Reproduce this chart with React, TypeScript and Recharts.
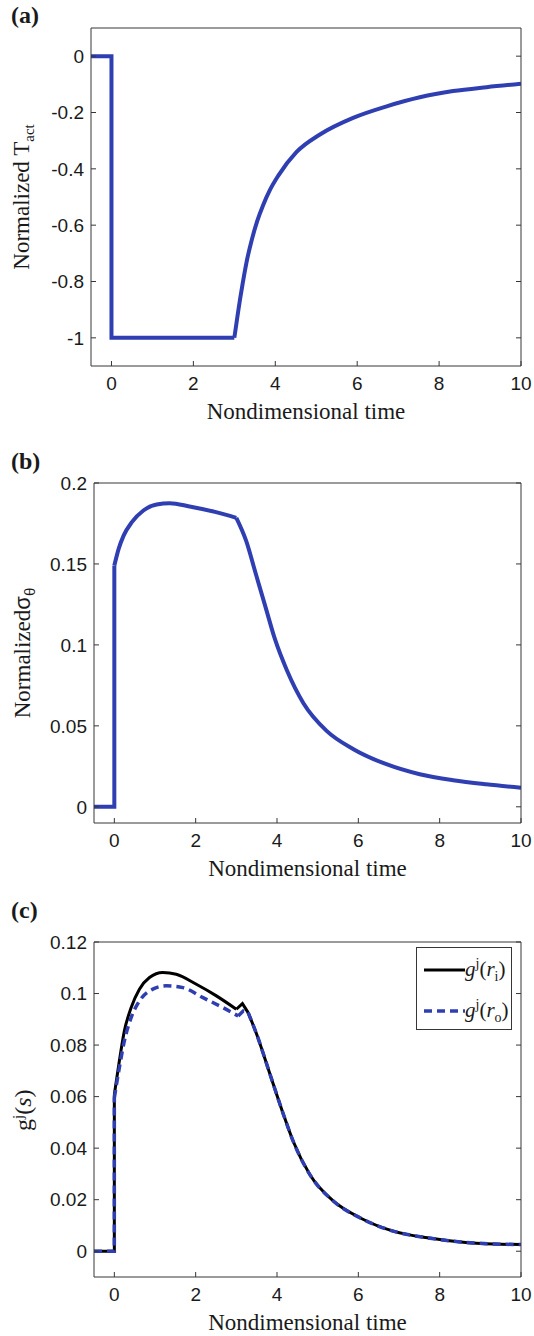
import React from 'react';
import { LineChart, Line, XAxis, YAxis, Legend } from 'recharts';

const BLUE = '#2f3fb2';
const FRAME = '#363636';
const INK = '#1a1a1a';
const SANS = "'Liberation Sans', Arial, sans-serif";
const SERIF = "'Liberation Serif', 'Times New Roman', serif";
const TICK = 5;

const xTicks = [0, 2, 4, 6, 8, 10];

// (a) normalized active tension
const tactTicks = [-1, -0.8, -0.6, -0.4, -0.2, 0];
const tactStepT = [-0.5, 0, 0, 3.0];
const tactStepV = [0, 0, -1, -1];
const tactRecT = [3.0, 3.05, 3.1, 3.2, 3.3, 3.43, 3.56, 3.7, 3.87, 4.07, 4.52, 5.09, 5.9, 6.72, 7.53, 8.34, 9.16, 10];
const tactRecV = [-1, -0.95, -0.9, -0.81, -0.73, -0.65, -0.585, -0.53, -0.475, -0.425, -0.34, -0.278, -0.219, -0.178, -0.146, -0.124, -0.11, -0.098];

// (b) normalized hoop stress
const sigTicks = [0, 0.05, 0.1, 0.15, 0.2];
const sigStepT = [-0.5, 0, 0];
const sigStepV = [0, 0, 0.149];
const sigHoldT = [0, 0.106, 0.228, 0.431, 0.715, 1.04, 1.366, 1.85, 2.5, 3.0];
const sigHoldV = [0.149, 0.1593, 0.1675, 0.1758, 0.183, 0.1867, 0.1875, 0.1855, 0.182, 0.1785];
const sigDecT = [3.0, 3.24, 3.48, 3.72, 3.95, 4.24, 4.65, 5.22, 5.88, 6.69, 7.51, 8.33, 9.14, 10];
const sigDecV = [0.1785, 0.1644, 0.1438, 0.1232, 0.1035, 0.0845, 0.064, 0.0469, 0.0356, 0.0263, 0.0201, 0.0164, 0.0139, 0.0118];

// (c) g^j at inner (ri) and outer (ro) radius
const gTicks = [0, 0.02, 0.04, 0.06, 0.08, 0.1, 0.12];
const giStepT = [-0.5, 0, 0];
const giStepV = [0, 0, 0.0608];
const giRiseT = [0, 0.123, 0.247, 0.412, 0.617, 0.864, 1.193, 1.523, 2.016, 2.51, 3.0];
const giRiseV = [0.0608, 0.0738, 0.0855, 0.0945, 0.1017, 0.1062, 0.1082, 0.1075, 0.1036, 0.0991, 0.0939];
const giBumpT = [3.0, 3.15, 3.29];
const giBumpV = [0.0939, 0.0961, 0.0926];
const goStepT = [-0.5, 0, 0];
const goStepV = [0, 0, 0.0595];
const goRiseT = [0, 0.123, 0.247, 0.412, 0.617, 0.946, 1.276, 1.687, 2.18, 2.675, 3.045];
const goRiseV = [0.0595, 0.0712, 0.0816, 0.0906, 0.0971, 0.1017, 0.103, 0.1023, 0.0984, 0.0945, 0.0913];
const goBumpT = [3.045, 3.17, 3.29];
const goBumpV = [0.0913, 0.0932, 0.0926];
// both radii fall on the same decay curve
const gDecT = [3.29, 3.5, 3.83, 4.16, 4.4, 4.81, 5.39, 6.05, 6.88, 7.7, 8.52, 9.34, 10];
const gDecV = [0.0926, 0.0842, 0.0686, 0.053, 0.0426, 0.0297, 0.0194, 0.0129, 0.0077, 0.0052, 0.0036, 0.0028, 0.0026];

const rows = (t: number[], v: number[], key: string) => t.map((x, i) => ({ t: x, [key]: v[i] }));

function BottomTick({ x, y, payload }: any) {
  return (
    <g>
      <line x1={x} y1={y} x2={x} y2={y - TICK} stroke={FRAME} />
      <text x={x} y={y + 24} textAnchor="middle" fontFamily={SANS} fontSize={19} fill={INK}>
        {payload.value}
      </text>
    </g>
  );
}
function TopTick({ x, y }: any) {
  return <line x1={x} y1={y} x2={x} y2={y + TICK} stroke={FRAME} />;
}
function LeftTick({ x, y, payload }: any) {
  return (
    <g>
      <line x1={x} y1={y} x2={x + TICK} y2={y} stroke={FRAME} />
      <text x={x - 7} y={y} dy="0.355em" textAnchor="end" fontFamily={SANS} fontSize={19} fill={INK}>
        {payload.value}
      </text>
    </g>
  );
}
function RightTick({ x, y }: any) {
  return <line x1={x} y1={y} x2={x - TICK} y2={y} stroke={FRAME} />;
}

const xTitle = (p: any) => {
  const vb = p.viewBox;
  return (
    <text x={vb.x + vb.width / 2} y={vb.y + 53} textAnchor="middle" fontFamily={SERIF} fontSize={23} fill={INK}>
      Nondimensional time
    </text>
  );
};

const panelTag = (tag: string, y: number) => (
  <text x={11} y={y} fontFamily={SERIF} fontWeight="bold" fontSize={24} fill={INK}>
    {tag}
  </text>
);

const titleA = (p: any) => {
  const cy = p.viewBox.y + p.viewBox.height / 2;
  return (
    <g>
      {panelTag('(a)', 23)}
      <text transform={`rotate(-90 29 ${cy})`} x={29} y={cy} textAnchor="middle" fontFamily={SERIF} fontSize={23} fill={INK}>
        Normalized T<tspan dy={5} fontSize={15}>act</tspan>
      </text>
    </g>
  );
};

const titleB = (p: any) => {
  const cy = p.viewBox.y + p.viewBox.height / 2;
  return (
    <g>
      {panelTag('(b)', 39)}
      <text transform={`rotate(-90 30 ${cy})`} x={30} y={cy} textAnchor="middle" fontFamily={SERIF} fontSize={23} fill={INK}>
        Normalized<tspan fontFamily={SANS} fontSize={22}>σ</tspan>
        <tspan dy={5} fontSize={15} fontFamily={SANS}>θ</tspan>
      </text>
    </g>
  );
};

const titleC = (p: any) => {
  const y0 = p.viewBox.y + p.viewBox.height - 146;
  return (
    <g>
      {panelTag('(c)', 28)}
      <text transform={`rotate(-90 31 ${y0})`} x={31} y={y0} textAnchor="start" fontFamily={SERIF} fontSize={24} fill={INK}>
        g<tspan dy={-8} fontSize={15}>j</tspan>
        <tspan dy={8}>(</tspan>
        <tspan fontStyle="italic">s</tspan>)
      </text>
    </g>
  );
};

const legendInfo: Record<string, { sub: string; color: string; dash?: string; width: number }> = {
  ri: { sub: 'i', color: '#000', width: 3 },
  ro: { sub: 'o', color: BLUE, dash: '8 5', width: 3.5 },
};

function GLegend({ payload }: any) {
  const items = (payload || []).filter((e: any) => legendInfo[e.value]);
  return (
    <div style={{ width: 94, height: 81, border: `1px solid ${FRAME}`, background: '#fff', position: 'relative' }}>
      {items.map((e: any, i: number) => {
        const info = legendInfo[e.value];
        return (
          <div key={e.value} style={{ position: 'absolute', left: 7, top: i === 0 ? 8 : 49, height: 28, display: 'flex', alignItems: 'center' }}>
            <svg width={41} height={10}>
              <line x1={0} y1={5} x2={41} y2={5} stroke={info.color} strokeWidth={info.width} strokeDasharray={info.dash} />
            </svg>
            <span style={{ fontFamily: SERIF, fontSize: 21, color: INK, whiteSpace: 'nowrap', lineHeight: '28px' }}>
              <i>g</i>
              <span style={{ fontSize: 14, position: 'relative', top: -8 }}>j</span>(<i>r</i>
              <span style={{ fontSize: 14, position: 'relative', top: 5 }}>{info.sub}</span>)
            </span>
          </div>
        );
      })}
    </div>
  );
}

// box with inward ticks on all four sides; axis areas are 1px thick
function Frame({ yDomain, yTicks, title }: { yDomain: number[]; yTicks: number[]; title: any }) {
  return [
    <XAxis key="xb" xAxisId={0} dataKey="t" type="number" domain={[-0.5, 10]} ticks={xTicks} allowDataOverflow interval={0}
      height={1} tickSize={0} tickMargin={0} tickLine={false} stroke={FRAME} tick={BottomTick} label={xTitle} />,
    <XAxis key="xt" xAxisId="top" orientation="top" type="number" domain={[-0.5, 10]} ticks={xTicks} allowDataOverflow interval={0}
      height={1} tickSize={0} tickMargin={0} tickLine={false} stroke={FRAME} tick={TopTick} />,
    <YAxis key="yl" yAxisId={0} type="number" domain={yDomain} ticks={yTicks} allowDataOverflow interval={0}
      width={1} tickSize={0} tickMargin={0} tickLine={false} stroke={FRAME} tick={LeftTick} label={title} />,
    <YAxis key="yr" yAxisId="right" orientation="right" type="number" domain={yDomain} ticks={yTicks} allowDataOverflow interval={0}
      width={1} tickSize={0} tickMargin={0} tickLine={false} stroke={FRAME} tick={RightTick} />,
  ];
}

const seg = (key: string, t: number[], v: number[], curve: 'linear' | 'monotone', color: string, width: number, dash?: string, name?: string) => (
  <Line key={key} data={rows(t, v, key)} dataKey={key} name={name ?? key} type={curve} stroke={color} strokeWidth={width}
    strokeDasharray={dash} dot={false} activeDot={false} isAnimationActive={false} legendType={name ? 'line' : 'none'} />
);

export default function App() {
  return (
    <div style={{ position: 'absolute', left: 0, top: 0, width: 534, height: 1336, background: '#fff' }}>
      <div style={{ position: 'absolute', left: 0, top: 0 }}>
        <LineChart width={534} height={440} margin={{ top: 27, right: 12, bottom: 73, left: 90 }}>
          {Frame({ yDomain: [-1.1, 0.1], yTicks: tactTicks, title: titleA })}
          {seg('a1', tactStepT, tactStepV, 'linear', BLUE, 4)}
          {seg('a2', tactRecT, tactRecV, 'monotone', BLUE, 4)}
        </LineChart>
      </div>
      <div style={{ position: 'absolute', left: 0, top: 430 }}>
        <LineChart width={534} height={470} margin={{ top: 52, right: 12, bottom: 76, left: 93 }}>
          {Frame({ yDomain: [-0.01, 0.2], yTicks: sigTicks, title: titleB })}
          {seg('b1', sigStepT, sigStepV, 'linear', BLUE, 4)}
          {seg('b2', sigHoldT, sigHoldV, 'monotone', BLUE, 4)}
          {seg('b3', sigDecT, sigDecV, 'monotone', BLUE, 4)}
        </LineChart>
      </div>
      <div style={{ position: 'absolute', left: 0, top: 890 }}>
        <LineChart width={534} height={446} margin={{ top: 51, right: 12, bottom: 58, left: 93 }}>
          {Frame({ yDomain: [-0.01, 0.12], yTicks: gTicks, title: titleC })}
          {seg('c1', giStepT, giStepV, 'linear', '#000', 3)}
          {seg('c2', giRiseT, giRiseV, 'monotone', '#000', 3, undefined, 'ri')}
          {seg('c3', giBumpT, giBumpV, 'linear', '#000', 3)}
          {seg('c4', gDecT, gDecV, 'monotone', '#000', 3)}
          {seg('c5', goStepT, goStepV, 'linear', BLUE, 3.5, '8 5')}
          {seg('c6', goRiseT, goRiseV, 'monotone', BLUE, 3.5, '8 5', 'ro')}
          {seg('c7', goBumpT, goBumpV, 'linear', BLUE, 3.5, '8 5')}
          {seg('c8', gDecT, gDecV, 'monotone', BLUE, 3.5, '8 5')}
          <Legend layout="vertical" align="center" verticalAlign="middle" content={GLegend}
            wrapperStyle={{ position: 'absolute', left: 416, top: 57, width: 96, height: 83 }} />
        </LineChart>
      </div>
    </div>
  );
}
